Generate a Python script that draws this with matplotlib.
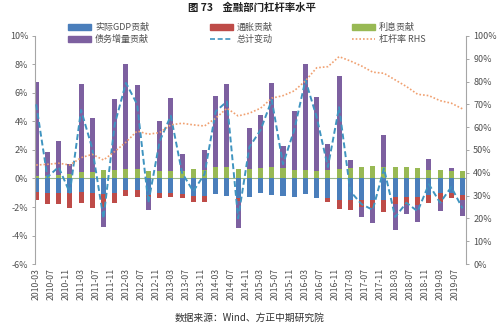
import numpy as np
import matplotlib
matplotlib.use('Agg')
import matplotlib.pyplot as plt
from matplotlib.patches import Patch
from matplotlib.lines import Line2D

plt.rcParams['font.family'] = ['Noto Sans CJK SC', 'DejaVu Sans']

# quarterly data, 2010-03 .. 2019-09
quarters = [f'{y}-{m:02d}' for y in range(2010, 2020) for m in (3, 6, 9, 12)][:39]

gdp = [-0.94, -1.05, -1.05, -1.05, -0.94, -1.05, -1.10, -1.05, -0.82, -0.82,
       -1.15, -1.05, -1.05, -1.10, -1.25, -1.20, -1.10, -1.24, -1.40, -1.29,
       -1.05, -1.19, -1.24, -1.29, -1.12, -1.40, -1.40, -1.52, -1.52, -1.52,
       -1.52, -1.52, -1.29, -1.29, -1.29, -1.17, -1.05, -1.05, -1.17]
inflation = [-0.58, -0.77, -0.77, -0.99, -0.77, -1.05, -0.87, -0.70, -0.42, -0.51,
             -0.15, -0.35, -0.24, -0.26, -0.41, -0.46, 0.0, 0.0, -0.15, 0.0,
             0.0, 0.0, 0.0, 0.0, 0.0, 0.0, -0.24, -0.65, -0.70, -0.47,
             -0.58, -0.82, -0.47, -0.58, -0.58, -0.58, -0.58, -0.35, -0.35]
interest = [0.16, 0.20, 0.25, 0.28, 0.44, 0.44, 0.56, 0.60, 0.63, 0.65,
            0.51, 0.51, 0.54, 0.54, 0.70, 0.56, 0.82, 0.82, 0.63, 0.68,
            0.77, 0.82, 0.73, 0.60, 0.58, 0.54, 0.56, 0.63, 0.73, 0.84,
            0.89, 0.82, 0.84, 0.80, 0.75, 0.60, 0.56, 0.54, 0.51]
debt = [6.60, 1.69, 2.37, 0.72, 6.16, 3.79, -1.40, 4.94, 7.37, 5.90,
        -0.92, 3.51, 5.12, 1.19, 0.0, 1.43, 4.98, 5.78, -1.89, 2.83,
        3.65, 5.85, 1.52, 4.13, 7.47, 5.14, 1.87, 6.57, 0.56, -0.70,
        -1.01, 2.20, -1.82, -0.63, -1.17, 0.78, -0.66, 0.23, -1.12]
total = [5.2, 0.1, 0.8, -1.0, 4.8, 2.1, -2.8, 3.8, 6.7, 5.2,
         -1.7, 2.6, 4.4, 0.4, -0.9, 0.3, 4.7, 5.4, -2.8, 2.2,
         3.4, 5.5, 1.0, 3.4, 6.9, 4.3, 0.8, 5.0, -0.9, -1.8,
         -2.2, 0.7, -2.7, -1.7, -2.3, -0.4, -1.7, -0.6, -2.1]
leverage = [43.4, 43.7, 44.2, 43.4, 46.6, 48.1, 45.6, 49.3, 53.4, 58.3,
            56.9, 57.6, 61.0, 61.7, 61.0, 60.5, 63.9, 68.3, 64.9, 66.1,
            68.3, 72.7, 73.8, 75.9, 80.3, 86.0, 86.5, 90.9, 89.0, 86.8,
            84.1, 83.6, 80.7, 77.8, 74.4, 73.8, 71.6, 70.5, 68.0]

tick_labels = [f'{y}-{m:02d}' for y in range(2010, 2020) for m in (3, 7, 11)][:29]

colors = {
    'gdp': '#4A7EBB',
    'inf': '#BE4B48',
    'int': '#98B954',
    'debt': '#7D60A0',
    'total': '#3F94C0',
    'lev': '#F0A070',
    'axis': '#A6A6A6',
    'text': '#505050',
}

fig = plt.figure(figsize=(5.0, 3.26), dpi=100)
ax = fig.add_axes([0.069, 0.19, 0.862, 0.7])
ax2 = ax.twinx()

# x positions in months since 2010-03
x = np.arange(len(quarters)) * 3
pos_base = np.zeros(len(x))
neg_base = np.zeros(len(x))
series = [('实际GDP贡献', gdp, colors['gdp']),
          ('通胀贡献', inflation, colors['inf']),
          ('利息贡献', interest, colors['int']),
          ('债务增量贡献', debt, colors['debt'])]
for name, vals, c in series:
    v = np.array(vals)
    bottom = np.where(v >= 0, pos_base, neg_base)
    ax.bar(x, v, bottom=bottom, width=1.35, color=c, zorder=2)
    pos_base = pos_base + np.clip(v, 0, None)
    neg_base = neg_base + np.clip(v, None, 0)

ax.plot(x, total, color=colors['total'], linestyle=(0, (3, 1.6)), linewidth=1.4, zorder=4)
ax2.plot(x, leverage, color=colors['lev'], linestyle=(0, (1, 1.2)), linewidth=1.2, zorder=3)

ax.axhline(0, color='#9DB88A', linewidth=0.8, zorder=1)

ax.set_xlim(-0.45, 114.8)
ax.set_ylim(-6, 10)
ax2.set_ylim(0, 100)
ax.set_yticks(np.arange(-6, 11, 2))
ax.set_yticklabels([f'{v}%' for v in range(-6, 11, 2)])
ax2.set_yticks(np.arange(0, 101, 10))
ax2.set_yticklabels([f'{v}%' for v in range(0, 101, 10)])
ax.set_xticks(np.arange(0, 113, 4))
ax.set_xticklabels(tick_labels, rotation=90)

for a in (ax, ax2):
    for s in ('top', 'bottom'):
        a.spines[s].set_visible(False)
    a.spines['left'].set_color(colors['axis'])
    a.spines['right'].set_color(colors['axis'])
    a.spines['left'].set_linewidth(0.8)
    a.spines['right'].set_linewidth(0.8)
ax.spines['right'].set_visible(False)
ax2.spines['left'].set_visible(False)
ax.tick_params(axis='y', length=2.5, width=0.7, color=colors['axis'], pad=2,
               labelsize=6.5, labelcolor=colors['text'])
ax2.tick_params(axis='y', length=2.5, width=0.7, color=colors['axis'], pad=3,
                labelsize=6.5, labelcolor=colors['text'])
ax.tick_params(axis='x', length=0, pad=3, labelsize=6.3, labelcolor=colors['text'])

# legend, three columns
cols = [
    (68, [Patch(color=colors['gdp']), Patch(color=colors['debt'])], ['实际GDP贡献', '债务增量贡献']),
    (210, [Patch(color=colors['inf']), Line2D([], [], color=colors['total'], linestyle=(0, (3, 1.6)), linewidth=1.2)],
     ['通胀贡献', '总计变动']),
    (352, [Patch(color=colors['int']), Line2D([], [], color=colors['lev'], linestyle=(0, (1, 1.2)), linewidth=1.2)],
     ['利息贡献', '杠杆率 RHS']),
]
for xpos, handles, labels in cols:
    leg = fig.legend(handles, labels, loc='upper left', bbox_to_anchor=(xpos / 500, 1 - 23 / 326),
                     frameon=False, fontsize=6.5, handlelength=2.5, handleheight=0.6,
                     handletextpad=0.5, labelspacing=0.3, borderpad=0, borderaxespad=0)
    for t in leg.get_texts():
        t.set_color(colors['text'])

fig.text(0.504, 1 - 8 / 326, '图 73    金融部门杠杆率水平', ha='center', va='center',
         fontsize=7.5, fontweight='bold', color='#202020')
fig.text(0.5, 1 - 318 / 326, '数据来源：Wind、方正中期研究院', ha='center', va='center',
         fontsize=7, color='#303030')

fig.savefig('out.png', dpi=100, facecolor='white')
